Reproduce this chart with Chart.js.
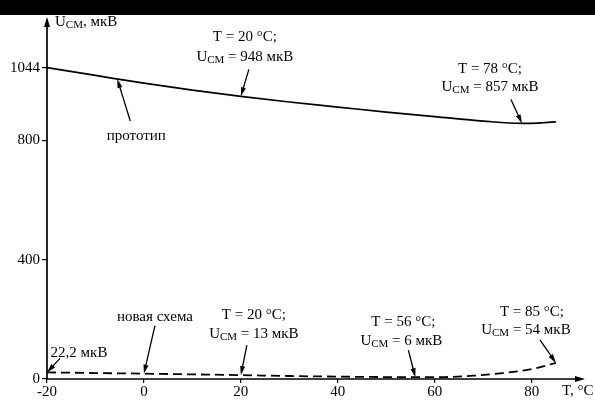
<!DOCTYPE html>
<html><head><meta charset="utf-8">
<script src="https://cdn.jsdelivr.net/npm/chart.js@4.4.1/dist/chart.umd.min.js"></script>
<style>html,body{margin:0;padding:0;background:#fff}#wrap{width:595px;height:400px;position:relative}</style>
</head><body><div id="wrap"><canvas id="c" width="595" height="400"></canvas></div>
<script>
// Data
const protoT = [-20, -10, 0, 10, 20, 30, 40, 50, 60, 70, 78, 85];
const protoU = [1044, 1018, 992, 969, 948, 929, 912, 895, 880, 865, 857, 862];
const newT = [-20, -10, 0, 10, 20, 30, 40, 50, 56, 62, 68, 74, 80, 85];
const newU = [22.2, 20, 18, 15.5, 13, 10, 8, 6.5, 6, 6.5, 11, 20, 33, 54];
const xTicks = [-20, 0, 20, 40, 60, 80];
const yTicks = [0, 400, 800, 1044];

const FONT = '"Liberation Serif", "Times New Roman", serif';

// annotations: anchor in data coords, arrow tail and text offsets in px
const notes = [
  {T:20, U:948, tail:[8,-27], lines:[{dx:4,dy:-59,parts:[['T = 20 °C;']]},{dx:4,dy:-39,parts:[['U'],['СМ',1],[' = 948 мкВ']]}]},
  {T:78, U:857, tail:[-11,-24], lines:[{dx:-32,dy:-54,parts:[['T = 78 °C;']]},{dx:-32,dy:-36,parts:[['U'],['СМ',1],[' = 857 мкВ']]}]},
  {T:-5.5, U:1006, tail:[13,42], lines:[{dx:19,dy:57,parts:[['прототип']]}]},
  {T:0, U:18, tail:[11,-48], lines:[{dx:11,dy:-57,parts:[['новая схема']]}]},
  {T:-20, U:22.2, tail:[13,-14], lines:[{dx:32,dy:-19,parts:[['22,2 мкВ']]}]},
  {T:20, U:13, tail:[6,-30], lines:[{dx:13,dy:-60,parts:[['T = 20 °C;']]},{dx:13,dy:-41,parts:[['U'],['СМ',1],[' = 13 мкВ']]}]},
  {T:56, U:6, tail:[-7,-27], lines:[{dx:-12,dy:-55,parts:[['T = 56 °C;']]},{dx:-14,dy:-36,parts:[['U'],['СМ',1],[' = 6 мкВ']]}]},
  {T:85, U:54, tail:[-16,-23], lines:[{dx:-24,dy:-51,parts:[['T = 85 °C;']]},{dx:-30,dy:-33,parts:[['U'],['СМ',1],[' = 54 мкВ']]}]}
];

function drawRich(ctx, parts, x, y, align, size) {
  const big = size + 'px ' + FONT, small = Math.round(size*0.7) + 'px ' + FONT;
  let w = 0;
  parts.forEach(p => { ctx.font = p[1] ? small : big; w += ctx.measureText(p[0]).width; });
  let cx = align === 'center' ? x - w/2 : x;
  ctx.textBaseline = 'middle'; ctx.textAlign = 'left';
  parts.forEach(p => {
    ctx.font = p[1] ? small : big;
    ctx.fillText(p[0], cx, y + (p[1] ? 3 : 0));
    cx += ctx.measureText(p[0]).width;
  });
}
function arrow(ctx, x1, y1, x2, y2, len, wid) {
  ctx.beginPath(); ctx.moveTo(x1, y1);
  const a = Math.atan2(y2-y1, x2-x1);
  ctx.lineTo(x2 - Math.cos(a)*len*0.8, y2 - Math.sin(a)*len*0.8); ctx.stroke();
  ctx.beginPath(); ctx.moveTo(x2, y2);
  ctx.lineTo(x2 - Math.cos(a)*len + Math.sin(a)*wid, y2 - Math.sin(a)*len - Math.cos(a)*wid);
  ctx.lineTo(x2 - Math.cos(a)*len - Math.sin(a)*wid, y2 - Math.sin(a)*len + Math.cos(a)*wid);
  ctx.closePath(); ctx.fill();
}

const deco = {
  id: 'deco',
  beforeDraw(chart) {
    const ctx = chart.ctx;
    ctx.save(); ctx.fillStyle = '#fff'; ctx.fillRect(0,0,chart.width,chart.height);
    ctx.fillStyle = '#000'; ctx.fillRect(0,0,chart.width,15); ctx.restore();
  },
  afterDraw(chart) {
    const ctx = chart.ctx, xs = chart.scales.x, ys = chart.scales.y, a = chart.chartArea;
    ctx.save();
    ctx.strokeStyle = '#000'; ctx.fillStyle = '#000'; ctx.lineWidth = 1.7;
    const x0 = xs.getPixelForValue(-20), y0 = ys.getPixelForValue(0);
    arrow(ctx, x0, y0, x0, a.top, 10, 3);
    arrow(ctx, x0, y0, a.right, y0, 10, 3);
    drawRich(ctx, [['U'],['СМ',1],[', мкВ']], x0 + 8, a.top + 5, 'left', 15);
    drawRich(ctx, [['T, °C']], a.right - 23, y0 + 12, 'left', 15);
    ctx.lineWidth = 1.3;
    notes.forEach(n => {
      const hx = xs.getPixelForValue(n.T), hy = ys.getPixelForValue(n.U);
      arrow(ctx, hx + n.tail[0], hy + n.tail[1], hx, hy, 9, 2.5);
      n.lines.forEach(l => drawRich(ctx, l.parts, hx + l.dx, hy + l.dy, 'center', 15));
    });
    ctx.restore();
  }
};

new Chart(document.getElementById('c'), {
  type: 'scatter',
  data: {
    datasets: [
      {data: protoT.map((t,i)=>({x:t,y:protoU[i]})), showLine:true, borderColor:'#000', borderWidth:1.7, pointRadius:0, cubicInterpolationMode:'monotone'},
      {data: newT.map((t,i)=>({x:t,y:newU[i]})), showLine:true, borderColor:'#000', borderWidth:1.8, borderDash:[9,5], pointRadius:0, cubicInterpolationMode:'monotone'}
    ]
  },
  options: {
    responsive:false, animation:false, devicePixelRatio:1,
    layout:{padding:{top:17, right:10, left:0, bottom:0}},
    plugins:{legend:{display:false}, tooltip:{enabled:false}},
    scales:{
      x:{type:'linear', min:-20, max:91,
        afterBuildTicks: s => { s.ticks = xTicks.map(v=>({value:v})); },
        afterFit: s => { s.height = 21; },
        border:{display:false},
        grid:{drawOnChartArea:false, drawTicks:true, tickLength:4, color:'#000', lineWidth:1.2},
        ticks:{color:'#000', font:{family:FONT, size:15}, padding:0, maxRotation:0, autoSkip:false, callback: v => String(v)}
      },
      y:{type:'linear', min:0, max:1214,
        afterBuildTicks: s => { s.ticks = yTicks.map(v=>({value:v})); },
        afterFit: s => { s.width = 47; },
        border:{display:false},
        grid:{drawOnChartArea:false, drawTicks:true, tickLength:5, color:'#000', lineWidth:1.2},
        ticks:{color:'#000', font:{family:FONT, size:15}, padding:2, autoSkip:false, callback: v => String(v)}
      }
    }
  },
  plugins:[deco]
});
</script></body></html>
